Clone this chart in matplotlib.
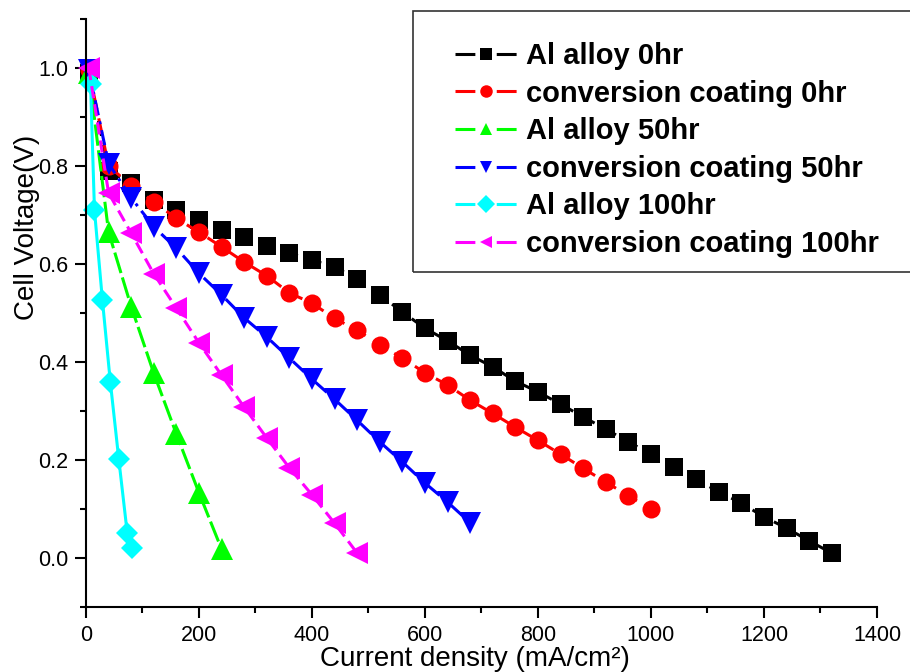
import matplotlib.pyplot as plt
from matplotlib.lines import Line2D
from matplotlib.patches import Rectangle
from matplotlib.ticker import MultipleLocator, FixedLocator

plt.rcParams['font.family'] = ['Liberation Sans', 'DejaVu Sans']

# current density (mA/cm2) and cell voltage (V) for each sample
alloy0_x = [5, 40, 80, 120, 160, 200, 240, 280, 320, 360, 400, 440, 480, 520, 560, 600, 640,
            680, 720, 760, 800, 840, 880, 920, 960, 1000, 1040, 1080, 1120, 1160, 1200, 1240, 1280, 1320]
alloy0_v = [0.99, 0.79, 0.765, 0.73, 0.71, 0.69, 0.67, 0.655, 0.637, 0.622, 0.608, 0.594, 0.569,
            0.537, 0.502, 0.469, 0.443, 0.414, 0.39, 0.361, 0.339, 0.314, 0.288, 0.263, 0.237,
            0.212, 0.186, 0.161, 0.135, 0.112, 0.084, 0.061, 0.035, 0.01]

coat0_x = [5, 40, 80, 120, 160, 200, 240, 280, 320, 360, 400, 440, 480, 520, 560, 600, 640,
           680, 720, 760, 800, 840, 880, 920, 960, 1000]
coat0_v = [0.995, 0.80, 0.76, 0.727, 0.693, 0.665, 0.635, 0.604, 0.576, 0.541, 0.52, 0.489, 0.465,
           0.435, 0.408, 0.378, 0.353, 0.322, 0.295, 0.267, 0.24, 0.212, 0.183, 0.155, 0.127, 0.10]

alloy50_x = [5, 40, 80, 120, 160, 200, 240]
alloy50_v = [0.99, 0.665, 0.513, 0.377, 0.253, 0.133, 0.018]

coat50_x = [5, 40, 80, 120, 160, 200, 240, 280, 320, 360, 400, 440, 480, 520, 560, 600, 640, 680]
coat50_v = [0.995, 0.805, 0.735, 0.676, 0.632, 0.581, 0.537, 0.49, 0.451, 0.408, 0.365, 0.324,
            0.281, 0.237, 0.196, 0.153, 0.114, 0.072]

alloy100_x = [8, 15, 29, 43, 58, 73, 81]
alloy100_v = [0.968, 0.71, 0.527, 0.36, 0.202, 0.051, 0.021]

coat100_x = [5, 40, 80, 120, 160, 200, 240, 280, 320, 360, 400, 440, 480]
coat100_v = [1.0, 0.745, 0.663, 0.58, 0.51, 0.439, 0.373, 0.308, 0.245, 0.184, 0.129, 0.071, 0.01]

labels = ["Al alloy 0hr", "conversion coating 0hr", "Al alloy 50hr",
          "conversion coating 50hr", "Al alloy 100hr", "conversion coating 100hr"]

series = [
    (alloy0_x, alloy0_v, '#000000', 's', 12.5, (0, (5, 3))),
    (coat0_x, coat0_v, '#ff0000', 'o', 13, (0, (5, 3))),
    (alloy50_x, alloy50_v, '#00ff00', '^', 15.5, (0, (7, 1.5))),
    (coat50_x, coat50_v, '#0000ff', 'v', 15.5, (0, (5, 2, 1, 2))),
    (alloy100_x, alloy100_v, '#00ffff', 'D', 11.5, '-'),
    (coat100_x, coat100_v, '#ff00ff', '<', 15.5, (0, (4, 2))),
]

fig = plt.figure(figsize=(9.1, 6.72), dpi=100)
ax = fig.add_axes([0.0945, 0.0967, 0.8692, 0.875])

handles = []
for (x, v, c, m, ms, ls), lab in zip(series, labels):
    ax.plot(x, v, color=c, marker=m, markersize=ms, linestyle=ls, linewidth=2.2,
            markeredgewidth=0, clip_on=False)
    handles.append(Line2D([], [], color=c, marker=m, markersize=9, markeredgewidth=0,
                          linewidth=2.2, linestyle=(0, (6.5, 7.0))))

ax.set_xlim(0, 1400)
ax.set_ylim(-0.1, 1.1)
ax.xaxis.set_major_locator(MultipleLocator(200))
ax.xaxis.set_minor_locator(MultipleLocator(100))
ax.yaxis.set_major_locator(FixedLocator([0.0, 0.2, 0.4, 0.6, 0.8, 1.0]))
ax.yaxis.set_minor_locator(FixedLocator([-0.1, 0.1, 0.3, 0.5, 0.7, 0.9, 1.1]))

for s in ['top', 'right']:
    ax.spines[s].set_visible(False)
for s in ['left', 'bottom']:
    ax.spines[s].set_linewidth(1.5)

ax.tick_params(which='major', direction='out', length=8, width=1.5, labelsize=15.5, pad=5)
ax.tick_params(which='minor', direction='out', length=4, width=1.5)

ax.set_xlabel("Current density (mA/cm²)", fontsize=20)
ax.set_ylabel("Cell Voltage(V)", fontsize=20)
ax.xaxis.set_label_coords(0.492, -0.066)
ax.yaxis.set_label_coords(-0.058, 0.646)

# legend box runs off the right edge of the figure
fig.patches.append(Rectangle((413 / 910, 1 - 272 / 672), 0.6, 261 / 672, transform=fig.transFigure,
                             fill=False, edgecolor='#333333', linewidth=1.2))
fig.legend(handles, labels, loc='upper left', bbox_to_anchor=(455 / 910, 1 - 42 / 672),
           prop={'weight': 'bold', 'size': 21}, frameon=False, borderpad=0, labelspacing=0.33,
           handlelength=2.12, handletextpad=0.33, borderaxespad=0)

plt.savefig("out.png", dpi=100)
